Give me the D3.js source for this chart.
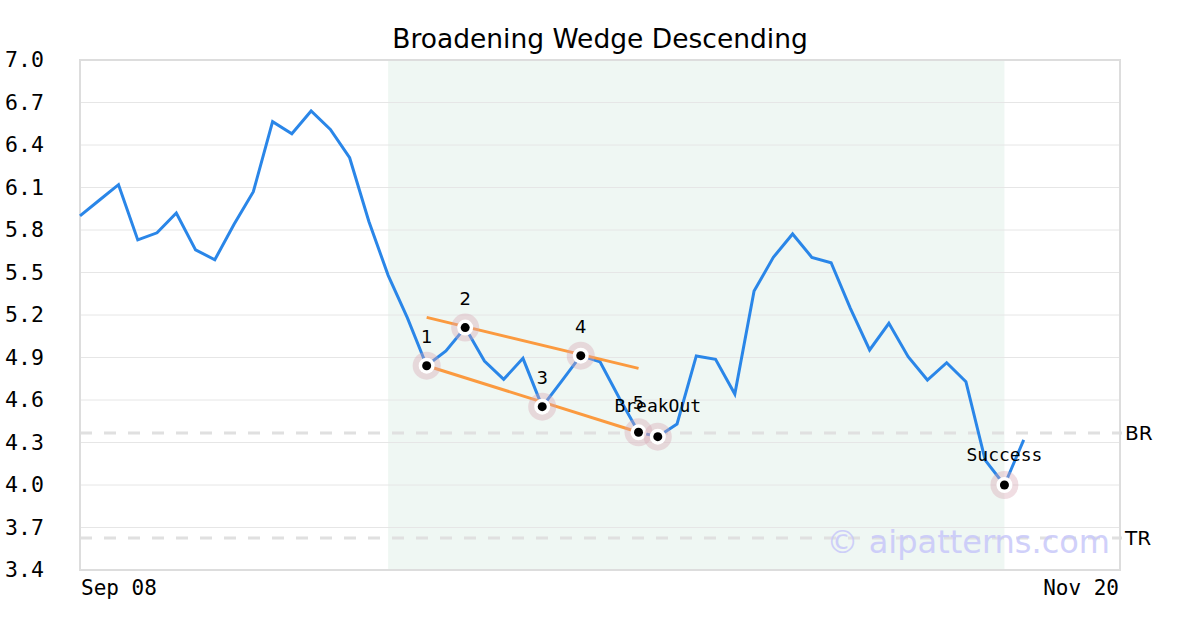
<!DOCTYPE html>
<html>
<head>
<meta charset="utf-8">
<script src="https://cdn.jsdelivr.net/npm/d3@7"></script>
<style>
  html, body { margin: 0; padding: 0; background: #fff; }
  svg { display: block; }
</style>
</head>
<body>
<svg id="chart" width="1200" height="630"></svg>
<script>
// ---- data ----
const title = "Broadening Wedge Descending";
const prices = [5.90, 6.01, 6.12, 5.73, 5.78, 5.92, 5.66, 5.59, 5.84, 6.07,
                6.565, 6.48, 6.64, 6.51, 6.31, 5.86, 5.48, 5.18, 4.842, 4.946,
                5.111, 4.875, 4.746, 4.894, 4.553, 4.732, 4.913, 4.870, 4.614, 4.372,
                4.341, 4.431, 4.911, 4.887, 4.642, 5.369, 5.607, 5.772, 5.607, 5.569,
                5.247, 4.953, 5.141, 4.906, 4.741, 4.863, 4.729, 4.176, 4.000, 4.318];
const xSlots = 55;
const xTickIdx = [0, 54];
const xTickLabels = ["Sep 08", "Nov 20"];
const yTicks = [3.4, 3.7, 4.0, 4.3, 4.6, 4.9, 5.2, 5.5, 5.8, 6.1, 6.4, 6.7, 7.0];
const yDomain = [3.4, 7.0];
const shadeRange = [16, 48];
const pivotIdx = [18, 20, 24, 26, 29];
const pivotLabels = ["1", "2", "3", "4", "5"];
const breakoutIdx = 30;
const successIdx = 48;
const upperLine = [[18, 5.183], [29, 4.823]];
const lowerLine = [[18, 4.842], [29, 4.372]];
const levels = [{name: "BR", value: 4.367}, {name: "TR", value: 3.626}];
const watermark = "© aipatterns.com";

// ---- layout ----
const svg = d3.select("#chart");
const L = 80, R = 1120, T = 60, B = 570;
const x = d3.scaleLinear().domain([0, xSlots - 1]).range([L, R]);
const y = d3.scaleLinear().domain(yDomain).range([B, T]);
const mono = "'DejaVu Sans Mono', monospace";
const sans = "'DejaVu Sans', sans-serif";

// shaded region
svg.append("rect")
  .attr("x", x(shadeRange[0])).attr("y", T)
  .attr("width", x(shadeRange[1]) - x(shadeRange[0])).attr("height", B - T)
  .attr("fill", "#eff7f3");

// gridlines
svg.append("g").selectAll("line").data(yTicks.slice(1, -1)).join("line")
  .attr("x1", L).attr("x2", R)
  .attr("y1", d => y(d)).attr("y2", d => y(d))
  .attr("stroke", "#e6e6e6").attr("stroke-width", 1);

// level lines
svg.append("g").selectAll("line").data(levels).join("line")
  .attr("x1", L).attr("x2", R + 2)
  .attr("y1", d => y(d.value)).attr("y2", d => y(d.value))
  .attr("stroke", "#e0e0e0").attr("stroke-width", 3)
  .attr("stroke-dasharray", "12,12");
svg.append("g").selectAll("text").data(levels).join("text")
  .attr("x", R + 5).attr("y", d => y(d.value) + 7)
  .attr("font-family", sans).attr("font-size", 20).attr("fill", "#000")
  .text(d => d.name);

// watermark
svg.append("text")
  .attr("x", 1110).attr("y", 553)
  .attr("text-anchor", "end")
  .attr("font-family", sans).attr("font-size", 32)
  .attr("fill", "#c8c8fa").attr("opacity", 0.85)
  .text(watermark);

// border
svg.append("rect")
  .attr("x", L).attr("y", T).attr("width", R - L).attr("height", B - T)
  .attr("fill", "none").attr("stroke", "#dddddd").attr("stroke-width", 2);

// price line
svg.append("path")
  .datum(prices)
  .attr("fill", "none").attr("stroke", "#2a86e8").attr("stroke-width", 3)
  .attr("stroke-linejoin", "miter")
  .attr("d", d3.line().x((d, i) => x(i)).y(d => y(d)));

// wedge lines
[upperLine, lowerLine].forEach(ln => {
  svg.append("line")
    .attr("x1", x(ln[0][0])).attr("y1", y(ln[0][1]))
    .attr("x2", x(ln[1][0])).attr("y2", y(ln[1][1]))
    .attr("stroke", "#fb9a3f").attr("stroke-width", 3);
});

// markers
const markIdx = pivotIdx.concat([breakoutIdx, successIdx]);
const mg = svg.append("g");
markIdx.forEach(i => {
  const cx = x(i), cy = y(prices[i]);
  mg.append("circle").attr("cx", cx).attr("cy", cy).attr("r", 14)
    .attr("fill", "rgba(215,165,178,0.38)");
  mg.append("circle").attr("cx", cx).attr("cy", cy).attr("r", 8).attr("fill", "#fff");
  mg.append("circle").attr("cx", cx).attr("cy", cy).attr("r", 4.5).attr("fill", "#000");
});

// pivot labels
svg.append("g").selectAll("text").data(pivotIdx).join("text")
  .attr("x", d => x(d)).attr("y", d => y(prices[d]) - 23)
  .attr("text-anchor", "middle")
  .attr("font-family", sans).attr("font-size", 18).attr("fill", "#000")
  .text((d, k) => pivotLabels[k]);

svg.append("text")
  .attr("x", x(breakoutIdx)).attr("y", y(prices[breakoutIdx]) - 25)
  .attr("text-anchor", "middle")
  .attr("font-family", mono).attr("font-size", 18).attr("fill", "#000")
  .text("BreakOut");

svg.append("text")
  .attr("x", x(successIdx)).attr("y", y(prices[successIdx]) - 24)
  .attr("text-anchor", "middle")
  .attr("font-family", mono).attr("font-size", 18).attr("fill", "#000")
  .text("Success");

// y axis labels
svg.append("g").selectAll("text").data(yTicks).join("text")
  .attr("x", 5).attr("y", d => y(d) + 7)
  .attr("text-anchor", "start")
  .attr("font-family", mono).attr("font-size", 21.5).attr("fill", "#000")
  .text(d => d.toFixed(1));

// x axis labels
svg.append("g").selectAll("text").data(xTickIdx).join("text")
  .attr("x", (d, k) => k === 0 ? x(d) + 1 : x(d) - 1)
  .attr("y", 595)
  .attr("text-anchor", (d, k) => k === 0 ? "start" : "end")
  .attr("font-family", mono).attr("font-size", 21).attr("fill", "#000")
  .text((d, k) => xTickLabels[k]);

// title
svg.append("text")
  .attr("x", 600).attr("y", 48)
  .attr("text-anchor", "middle")
  .attr("font-family", sans).attr("font-size", 26.5).attr("fill", "#000")
  .text(title);
</script>
</body>
</html>
